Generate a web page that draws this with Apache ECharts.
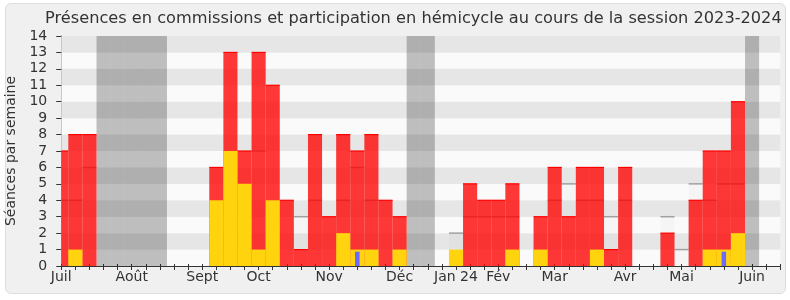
<!DOCTYPE html>
<html>
<head>
<meta charset="utf-8">
<style>
html,body{margin:0;padding:0;background:#ffffff;}
#wrap{position:relative;width:790px;height:300px;}
#panel{position:absolute;left:5px;top:3px;width:779px;height:289px;background:#f0f0f0;border:1px solid #dedede;border-radius:6px;}
#c{position:absolute;left:0;top:0;width:790px;height:300px;}
</style>
<script src="https://cdn.jsdelivr.net/npm/echarts@6/dist/echarts.min.js"></script>
</head>
<body>
<div id="wrap"><div id="panel"></div><div id="c"></div></div>
<script>
// Week index 0 = first week of July 2023; one entry per week
const presences = [7,8,8,null,null,null,null,null,null,null,null,6,13,7,13,11,4,1,8,3,8,7,8,4,3,null,null,null,null,5,4,4,5,null,3,6,3,6,6,1,6,null,null,2,null,4,7,7,10,null,null];
const hemicycle = [null,1,null,null,null,null,null,null,null,null,null,4,7,5,1,4,null,null,null,null,2,1,1,null,1,null,null,null,1,null,null,null,1,null,1,null,null,null,1,null,null,null,null,null,null,null,1,1,2,null,null];
const mediane   = [4,4,6,null,null,null,null,null,null,null,null,null,null,null,7,null,null,3,4,null,4,6,4,null,null,null,null,null,2,3,3,3,3,null,null,4,5,4,4,3,4,null,null,3,1,5,4,5,5,null,null];
const questions = [null,null,null,null,null,null,null,null,null,null,null,null,null,null,null,null,null,null,null,null,null,0.87,null,null,null,null,null,null,null,null,null,null,null,null,null,null,null,null,null,null,null,null,null,null,null,null,null,0.87,null,null,null];
const vacances  = [3,4,5,6,7,25,26,49];
const monthWeeks  = [0,5,10,14,19,24,28,31,35,40,44,49];
const monthLabels = ['Juil','Août','Sept','Oct','Nov','Déc','Jan 24','Fév','Mar','Avr','Mai','Juin'];
const yMax = 14;
const xMax = 51;

function toPairs(arr){ const out=[]; arr.forEach((v,i)=>{ if(v!==null) out.push([i,v]); }); return out; }

function makeRenderer(fill, topColor, topWidth, frac){
  return function(params, api){
    const x = api.value(0), v = api.value(1);
    const a = api.coord([x - frac/2, 0]);
    const b = api.coord([x + frac/2, v]);
    const cs = params.coordSys;
    const rect = echarts.graphic.clipRectByRect(
      {x:a[0], y:b[1], width:b[0]-a[0], height:a[1]-b[1]},
      {x:cs.x, y:cs.y, width:cs.width, height:cs.height});
    if(!rect) return;
    const children = [{type:'rect', shape:rect, style:{fill:fill}}];
    if(topColor){
      children.push({type:'line', shape:{x1:rect.x, y1:b[1], x2:rect.x+rect.width, y2:b[1]}, style:{stroke:topColor, lineWidth:topWidth}});
    }
    return {type:'group', children:children};
  };
}

const font = "'DejaVu Sans', Verdana, sans-serif";
const chart = echarts.init(document.getElementById('c'), null, {renderer:'canvas'});
chart.setOption({
  backgroundColor:'transparent',
  animation:false,
  title:{
    text:'Présences en commissions et participation en hémicycle au cours de la session 2023-2024',
    left:40, top:6,
    textStyle:{fontFamily:font, fontSize:16.2, fontWeight:'normal', color:'#333'}
  },
  grid:{left:61.25, right:9.75, top:36, bottom:34, containLabel:false, outerBoundsMode:'none'},
  xAxis:[{
    type:'value', min:0, max:xMax, interval:1,
    axisLine:{show:true, onZero:false, lineStyle:{color:'#333', width:1}},
    axisTick:{show:true, length:4, lineStyle:{color:'#333'}},
    splitLine:{show:false},
    axisLabel:{
      show:true, margin:4, color:'#333', fontFamily:font, fontSize:14,
      formatter:function(v){ const k = monthWeeks.indexOf(Math.round(v)); return (k>=0 && Math.abs(v-Math.round(v))<1e-6) ? monthLabels[k] : ''; }
    }
  },{
    type:'value', position:'top', min:0, max:xMax, interval:1,
    axisLine:{show:false},
    axisTick:{show:true, length:2, lineStyle:{color:'#333'}},
    axisLabel:{show:false}, splitLine:{show:false}
  }],
  yAxis:[{
    type:'value', min:0, max:yMax, interval:1,
    name:'Séances par semaine', nameLocation:'middle', nameGap:42, nameRotate:90,
    nameTextStyle:{fontFamily:font, fontSize:14, color:'#333'},
    axisLine:{show:true, lineStyle:{color:'#333'}},
    axisTick:{show:true, length:5, lineStyle:{color:'#333'}},
    axisLabel:{margin:14, color:'#333', fontFamily:font, fontSize:14},
    splitLine:{show:false},
    splitArea:{show:true, areaStyle:{color:['#fafafa','#e6e6e6']}}
  },{
    type:'value', position:'right', min:0, max:yMax, interval:1,
    axisLine:{show:true, lineStyle:{color:'#c8c8c8'}},
    axisTick:{show:false}, axisLabel:{show:false}, splitLine:{show:false}, splitArea:{show:false}
  }],
  series:[
    {type:'custom', name:'vacances', z:1, renderItem:makeRenderer('rgba(0,0,0,0.24)', null, 0, 1),
     data:vacances.map(w=>[w,yMax])},
    {type:'custom', name:'médiane', z:2, renderItem:makeRenderer('rgba(0,0,0,0.02)', '#a0a0a0', 1.5, 1),
     data:toPairs(mediane)},
    {type:'custom', name:'présences', z:3, renderItem:makeRenderer('rgba(255,0,0,0.78)', '#ff0000', 1.2, 1),
     data:toPairs(presences)},
    {type:'custom', name:'hémicycle', z:4, renderItem:makeRenderer('#ffd30d', null, 0, 1),
     data:toPairs(hemicycle)},
    {type:'custom', name:'questions', z:5, renderItem:makeRenderer('#6a6aff', null, 0, 0.32),
     data:toPairs(questions)}
  ]
});
</script>
</body>
</html>
